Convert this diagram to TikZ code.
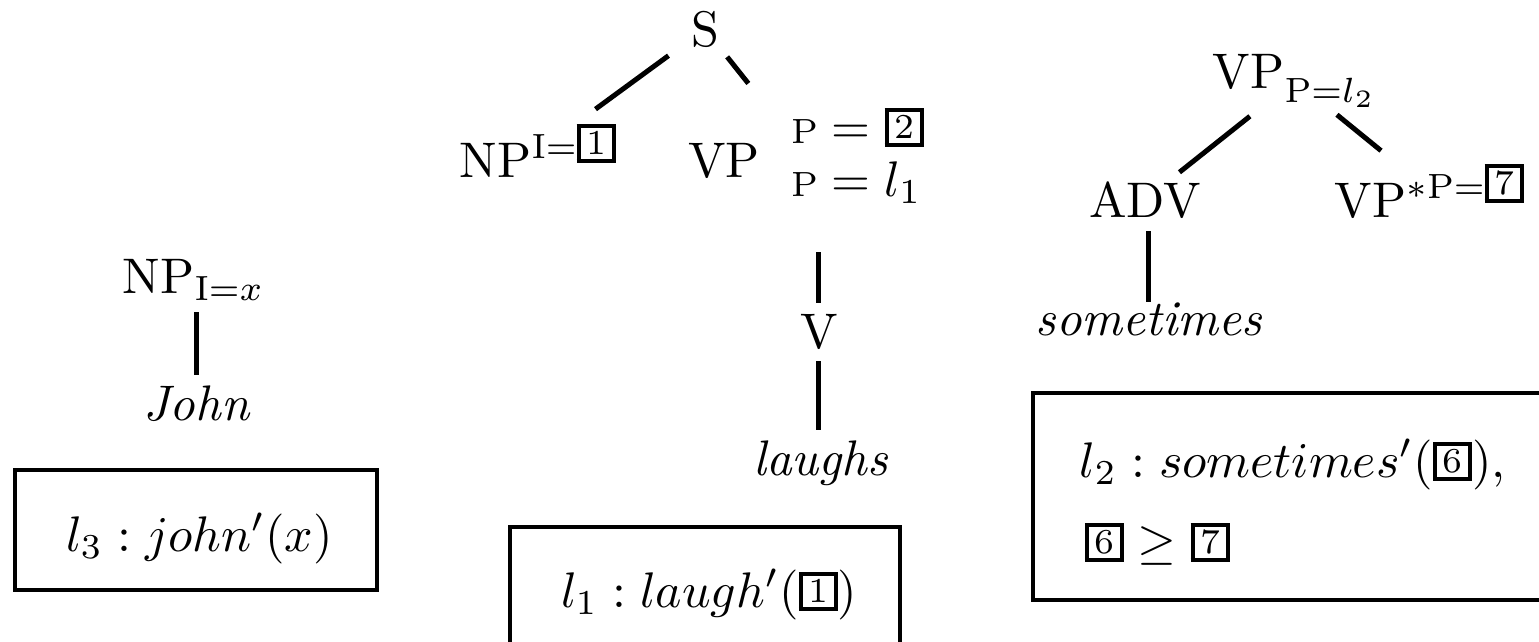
\documentclass[tikz,border=0pt]{standalone}
\usetikzlibrary{calc,fit}
\newcommand{\bnum}[1]{{\setlength{\fboxrule}{0.8pt}\setlength{\fboxsep}{0pt}\fbox{\makebox[6.2pt]{\rule{0pt}{6.2pt}\raisebox{0.85pt}{\scriptsize #1}}}}}
\begin{document}
\begin{tikzpicture}[x=0.2pt,y=-0.2pt,
  every node/.style={inner sep=0pt, outer sep=0pt},
  edge/.style={line width=1pt},
  frame/.style={draw, line width=0.8pt}]
\useasboundingbox (0,0) rectangle (1539,642);
\clip (0,0) rectangle (1539,642);
% middle tree
\node[anchor=base] (S) at (705,46) {S};
\node[anchor=base west] (NP1) at (460,177) {NP$^{\mathrm{I}=\bnum{1}}$};
\node[anchor=base west] (VP) at (688,177) {VP};
\node[anchor=base west] (F1) at (791,143) {${\scriptstyle\mathrm{P}} = \bnum{2}$};
\node[anchor=base west] (F2) at (791,196) {${\scriptstyle\mathrm{P}} = l_1$};
\node[fit=(VP)(F1)(F2)] (VPg) {};
\node[anchor=base] (V) at (819,348) {V};
\node[anchor=base] (laughs) at (821,475) {\textit{laughs}};
\node[frame, anchor=north west, minimum width=78pt, minimum height=40pt] (B1) at (510,527) {};
\node[anchor=base west] (T1) at (561,607) {$l_1 : laugh'(\bnum{1})$};
% left tree
\node[anchor=base west] (NP2) at (123,293) {NP$_{\mathrm{I}=x}$};
\node[anchor=base] (John) at (197,420) {\textit{John}};
\node[frame, anchor=north west, minimum width=72.4pt, minimum height=24pt] (B2) at (15,470) {};
\node[anchor=base west] (T2) at (66,551) {$l_3 : john'(x)$};
% right tree
\node[anchor=base west] (VP3) at (1213,88) {VP$^{}_{\mathrm{P}=l_2}$};
\node[anchor=base] (ADV) at (1145,217) {ADV};
\node[anchor=base west] (VP4) at (1335,217) {VP$^{\ast\mathrm{P}=\bnum{7}}$};
\node[anchor=base] (sometimes) at (1149,335) {\textit{sometimes}};
\node[frame, anchor=north west, minimum width=120pt, minimum height=41.4pt] (B3) at (1033,393) {};
\node[anchor=base west] (T3a) at (1080,477) {$l_2 : sometimes'(\bnum{6}),$};
\node[anchor=base west] (T3b) at (1085,558) {$\bnum{6} \geq \bnum{7}$};
% edges
\draw[edge] ($(S)!0.22!(NP1)$) -- ($(S)!0.66!(NP1)$);
\draw[edge] ($(S)!0.22!(VPg)$) -- ($(S)!0.43!(VPg)$);
\draw[edge, shorten <=9.7pt, shorten >=2.2pt] (VPg.south -| V.north) -- (V.north);
\draw[edge, shorten <=2.4pt, shorten >=2pt] (V.south) -- (V.south |- laughs.north);
\draw[edge, shorten <=2.3pt, shorten >=2pt] (NP2.south -| John.north) -- (John.north);
\draw[edge] ($(VP3)!0.30!(ADV)$) -- ($(VP3)!0.77!(ADV)$);
\draw[edge] ($(VP3)!0.31!(VP4)$) -- ($(VP3)!0.635!(VP4)$);
\draw[edge, shorten <=2.6pt] (ADV.south -| sometimes.north) -- (sometimes.north);
\end{tikzpicture}
\end{document}
